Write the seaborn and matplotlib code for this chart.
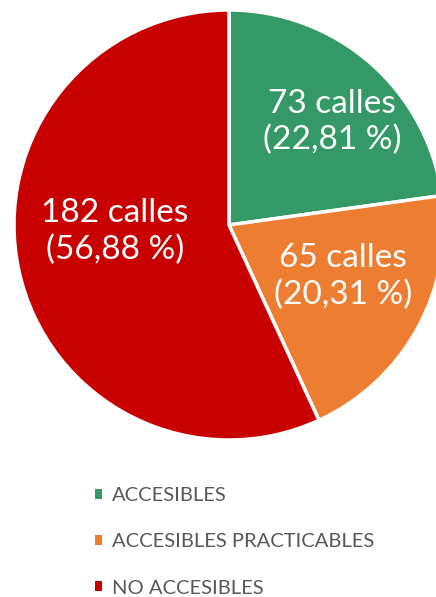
import matplotlib
matplotlib.use("Agg")
import matplotlib.pyplot as plt
import seaborn as sns

categorias = ["ACCESIBLES", "ACCESIBLES PRACTICABLES", "NO ACCESIBLES"]
calles = [73, 65, 182]
porcentajes = ["22,81", "20,31", "56,88"]
colores = ["#349966", "#ED7D31", "#C80000"]

sns.set_theme(style="white")
plt.rcParams["font.family"] = ["Lato", "DejaVu Sans"]

fig = plt.figure(figsize=(4.36, 5.97), dpi=100)
# pie axes: center at (229, 225) px, radius 215 px
ax = fig.add_axes([14 / 436, 157 / 597, 430 / 436, 430 / 597])

wedges, _ = ax.pie(calles, colors=colores, startangle=90, counterclock=False,
                   wedgeprops=dict(edgecolor="white", linewidth=2.5))
for w in wedges:
    w.set_clip_on(False)
ax.set_xlim(-1, 1)
ax.set_ylim(-1, 1)
ax.set_aspect("equal")
ax.axis("off")

# label positions inside each wedge
pos = [(0.48, 0.48), (0.53, -0.24), (-0.53, -0.03)]
for (x, y), n, p in zip(pos, calles, porcentajes):
    ax.text(x, y, f"{n} calles\n({p} %)", color="white", fontsize=24,
            ha="center", va="center", linespacing=1.25)

leg = fig.legend(wedges, categorias, loc="upper left",
                 bbox_to_anchor=(77 / 436, 1 - 469 / 597), frameon=False,
                 handlelength=0.36, handleheight=0.36, handletextpad=0.48,
                 labelspacing=1.45, fontsize=14.5, labelcolor="#595959")
for h in leg.legend_handles:
    h.set_edgecolor("none")

fig.savefig("out.png", dpi=100)
